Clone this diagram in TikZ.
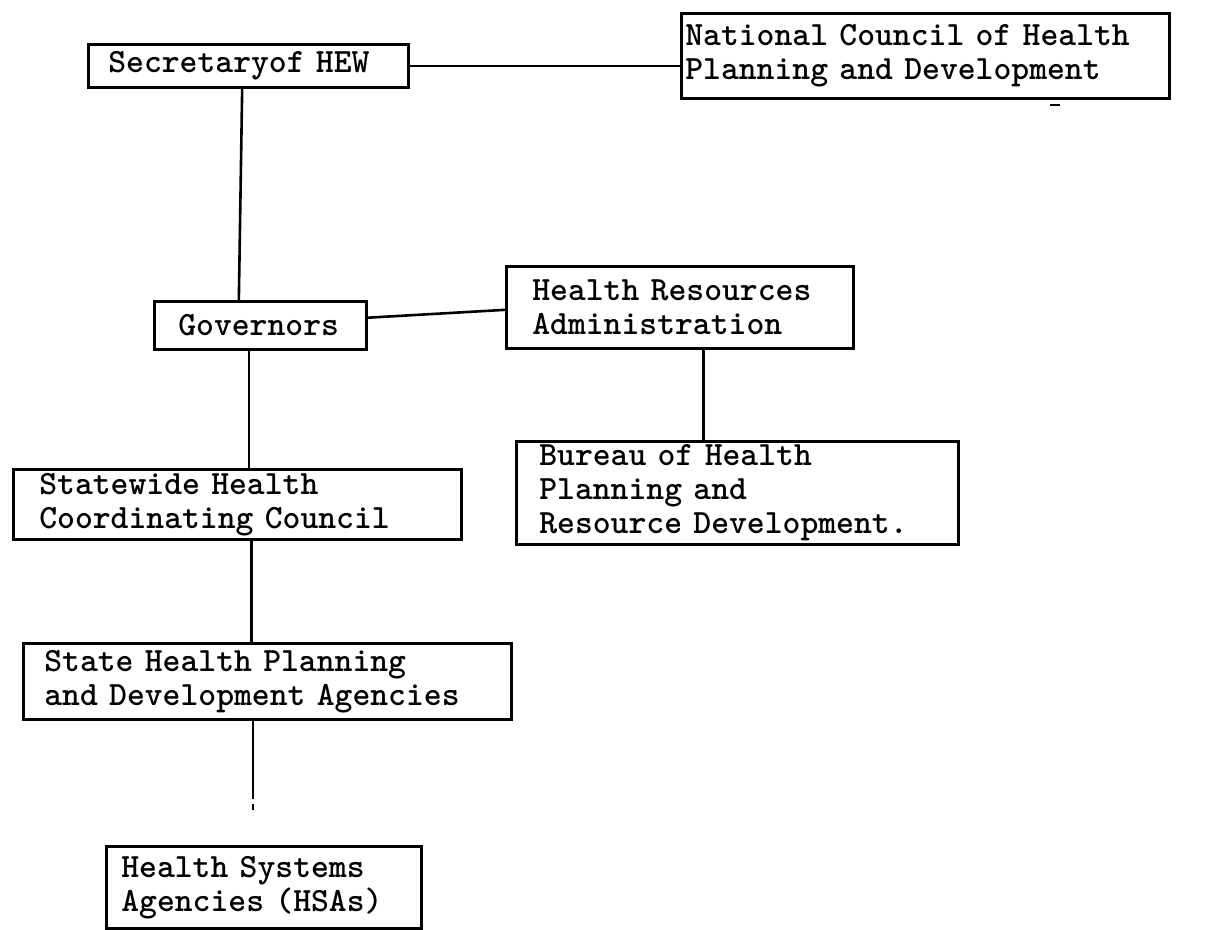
\documentclass[tikz,border=0pt]{standalone}
\usepackage{fontspec}
\usetikzlibrary{calc}
\newcommand\twfont{\ttfamily\bfseries\fontsize{34}{34}\selectfont\fontdimen2\font=0.525em\fontdimen3\font=0pt\fontdimen4\font=0pt\relax}
\begin{document}
\begin{tikzpicture}[x=1pt,y=-1pt,
  box/.style={draw, line width=2.6pt, anchor=north west, font=\twfont, align=left, inner ysep=0pt},
  link/.style={line width=2.6pt},
  broken/.style={line width=2.2pt, dash pattern=on 6pt off 5pt}]
\useasboundingbox (0,0) rectangle (1230,929);
% boxes
\node[box, inner xsep=20pt, text width=280pt, minimum height=43pt] (sec) at (87,43) {Secretaryof HEW};
\node[box, inner xsep=4pt, text width=480pt, minimum height=85pt] (nc) at (680,12) {National Council of Health\\Planning and Development};
\node[box, inner xsep=24pt, text width=164pt, minimum height=48pt] (gov) at (153,300) {Governors};
\node[box, inner xsep=26pt, text width=295pt, minimum height=82pt] (hra) at (505,265) {Health Resources\\Administration};
\node[box, inner xsep=23pt, text width=396pt, minimum height=103pt] (bur) at (515,440) {Bureau of Health\\Planning and\\Resource Development.};
\node[box, inner xsep=26pt, text width=396pt, minimum height=70pt] (shcc) at (12,468) {Statewide Health\\Coordinating Council};
\node[box, inner xsep=21pt, text width=446pt, minimum height=76pt] (shpda) at (22,642) {State Health Planning\\and Development Agencies};
\node[box, inner xsep=15pt, text width=285pt, minimum height=82pt] (hsa) at (105,845) {Health Systems\\Agencies (HSAs)};
% connectors
\draw[link] (sec.east) -- (nc.west |- sec.east);
\draw[link] ($(sec.south west)!0.481!(sec.south east)$) -- ($(gov.north west)!0.4!(gov.north east)$);
\draw[link] ($(gov.north east)!0.35!(gov.south east)$) -- ($(hra.north west)!0.53!(hra.south west)$);
\draw[link] ($(hra.south west)!0.568!(hra.south east)$) coordinate (h1) -- (h1 |- bur.north);
\draw[link] ($(gov.south west)!0.448!(gov.south east)$) coordinate (g1) -- (g1 |- shcc.north);
\draw[link] ($(shcc.south west)!0.531!(shcc.south east)$) coordinate (c1) -- (c1 |- shpda.north);
\draw[link] ($(shpda.south west)!0.471!(shpda.south east)$) coordinate (s1) -- ($(s1)+(0,72)$) coordinate (d1);
\draw[broken] (d1) -- ($(d1)+(0,22)$) coordinate (d2);
% stray mark below the council box
\draw[line width=2pt] (1050,105) -- (1060,105);
\end{tikzpicture}
\end{document}
